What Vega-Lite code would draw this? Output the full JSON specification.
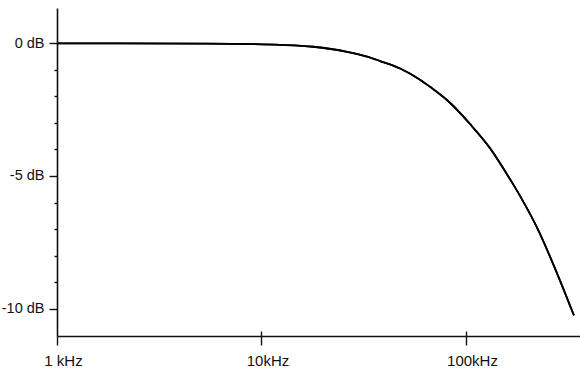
{
  "$schema": "https://vega.github.io/schema/vega-lite/v6.json",
  "width": 523,
  "height": 328,
  "autosize": {"type": "none"},
  "padding": {"left": 57, "top": 8, "right": 0, "bottom": 32},
  "background": "white",
  "config": {"view": {"stroke": null}, "axis": {"grid": false, "labelFont": "Liberation Sans", "labelFontSize": 14, "labelColor": "#111", "domainColor": "#111", "tickColor": "#111", "domainWidth": 1.6, "tickWidth": 1.4}},
  "data": {"values": [
    {"f": 1, "db": 0},
    {"f": 2, "db": 0},
    {"f": 5, "db": -0.01},
    {"f": 8.8, "db": -0.03},
    {"f": 12.3, "db": -0.06},
    {"f": 17.9, "db": -0.13},
    {"f": 26.2, "db": -0.32},
    {"f": 32.8, "db": -0.5},
    {"f": 38.0, "db": -0.67},
    {"f": 47.6, "db": -0.95},
    {"f": 59.6, "db": -1.37},
    {"f": 66.7, "db": -1.64},
    {"f": 83.5, "db": -2.24},
    {"f": 104.6, "db": -3.04},
    {"f": 131, "db": -3.95},
    {"f": 160, "db": -4.98},
    {"f": 184, "db": -5.76},
    {"f": 222, "db": -6.93},
    {"f": 266, "db": -8.29},
    {"f": 337, "db": -10.25}
  ]},
  "mark": {"type": "line", "color": "#000", "strokeWidth": 1.8, "interpolate": "monotone"},
  "encoding": {
    "y": {"field": "db", "type": "quantitative", "scale": {"domain": [-11.03, 1.33], "nice": false, "zero": false},
      "axis": {"title": null, "values": [0, -1, -2, -3, -4, -5, -6, -7, -8, -9, -10], "labelFontSize": 14.5,
        "tickSize": {"condition": {"test": "datum.value % 5 === 0", "value": 8}, "value": 3},
        "labelExpr": "datum.value % 5 === 0 ? datum.value + ' dB' : ''", "labelPadding": 5, "labelOverlap": false, "labelFlush": false}}
  },
  "layer": [
    {
      "mark": {"type": "line", "color": "#000", "strokeWidth": 1.8, "interpolate": "monotone"},
      "encoding": {
        "x": {"field": "f", "type": "quantitative", "scale": {"type": "log", "domain": [1, 361], "nice": false},
          "axis": {"orient": "bottom", "title": null, "values": [1, 10, 100], "tickSize": 9, "labelPadding": 8, "labelOffset": 6, "labelFontSize": 15,
            "labelExpr": "datum.value == 1 ? '1 kHz' : datum.value + 'kHz'", "labelFlush": false, "labelOverlap": false}}
      }
    },
    {
      "mark": {"type": "line", "color": "#000", "strokeWidth": 1.8, "interpolate": "monotone"},
      "encoding": {
        "x": {"field": "f", "type": "quantitative", "scale": {"type": "log", "domain": [1, 361], "nice": false},
          "axis": {"orient": "bottom", "title": null, "values": [10, 100], "tickSize": -5, "labels": false, "domain": false}}
      }
    }
  ],
  "resolve": {"axis": {"x": "independent"}}
}
